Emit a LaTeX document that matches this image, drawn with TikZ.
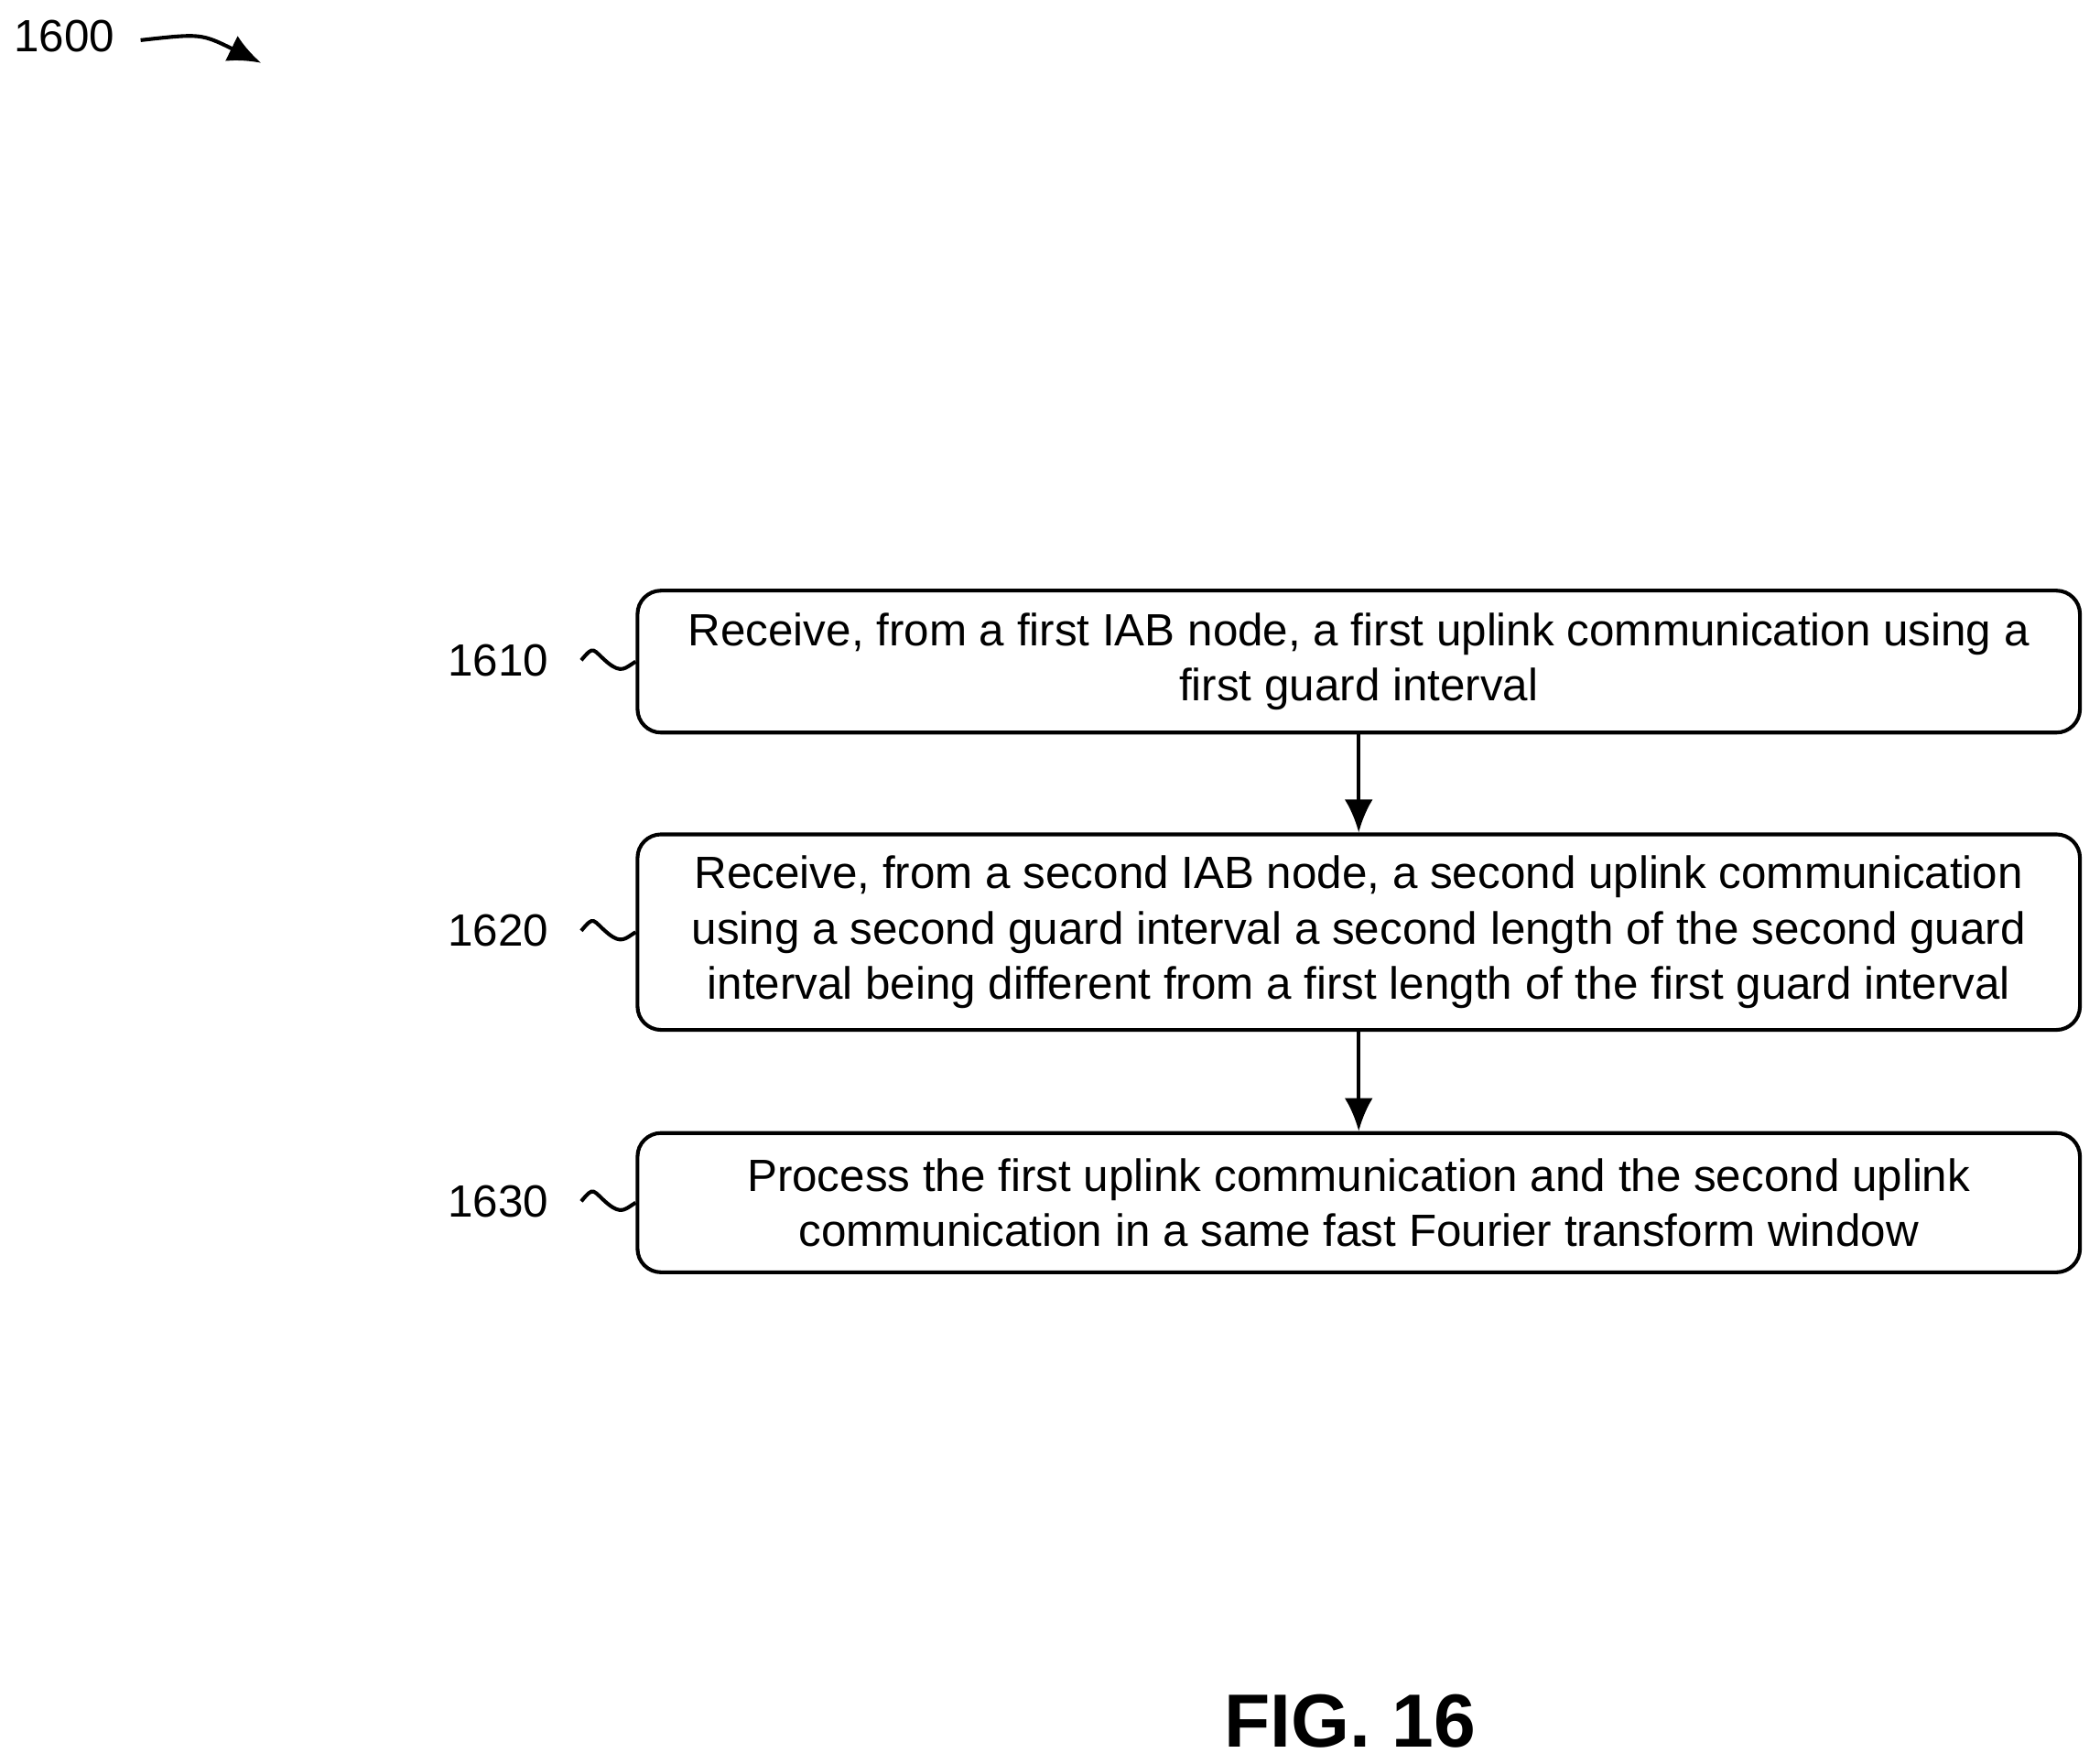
\documentclass[tikz,border=0pt]{standalone}
\usepackage{fontspec}
\setmainfont{Liberation Sans}
\usetikzlibrary{arrows.meta}
\begin{document}
\begin{tikzpicture}[
  block/.style={draw, thick, rounded corners=5pt, minimum width=10.77cm, align=center, font=\fontsize{9.6}{11.7}\selectfont, inner sep=2pt},
  num/.style={font=\fontsize{9.6}{11.7}\selectfont, anchor=east}]
\useasboundingbox (0,0) rectangle (15.68,-13.17);

\node[block, minimum height=1.06cm] (s1) at (10.145,-4.94) {Receive, from a first IAB node, a first uplink communication using a\\first guard interval};
\node[block, minimum height=1.46cm] (s2) at (10.145,-6.96) {Receive, from a second IAB node, a second uplink communication\\using a second guard interval a second length of the second guard\\interval being different from a first length of the first guard interval};
\node[block, minimum height=1.04cm] (s3) at (10.145,-8.98) {Process the first uplink communication and the second uplink\\communication in a same fast Fourier transform window};

\node[num] (n1) at (4.22,-4.93) {1610};
\node[num] (n2) at (4.22,-6.95) {1620};
\node[num] (n3) at (4.22,-8.97) {1630};

\foreach \i in {1,2,3}
  \path[draw,thick] (n\i.east) ++(0.12,0) .. controls +(0.1,0.12) and +(-0.12,0.1) .. ++(0.2,-0.02) .. controls +(0.1,-0.08) and +(-0.08,-0.05) .. (s\i.west);

\path[draw,thick,-{Latex[length=7pt,width=6pt]}] (s1) -- (s2);
\path[draw,thick,-{Latex[length=7pt,width=6pt]}] (s2) -- (s3);

\node[font=\fontsize{9.6}{11.7}\selectfont] (fig) at (0.48,-0.27) {1600};
\coordinate (tip) at (1.95,-0.47);
\path[draw,thick,-{Latex[length=7pt,width=6pt]}] (1.05,-0.3) .. controls (1.5,-0.25) .. (tip);

\node[font=\fontsize{16}{19}\selectfont\bfseries] (title) at (10.08,-12.85) {FIG. 16};
\end{tikzpicture}
\end{document}
